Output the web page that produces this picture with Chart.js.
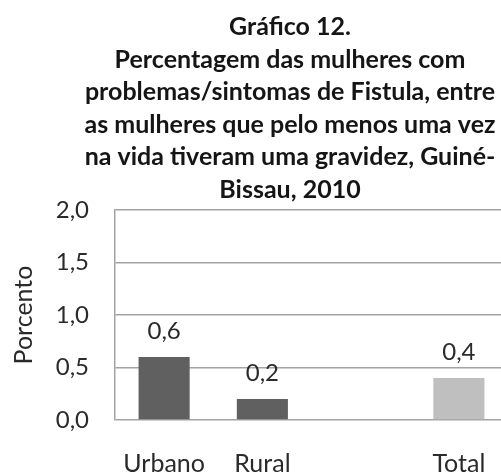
<!DOCTYPE html>
<html lang="pt">
<head>
<meta charset="UTF-8" />
<title>Gráfico 12</title>
<script src="https://cdn.jsdelivr.net/npm/chart.js"></script>
<style>
  html, body { margin: 0; padding: 0; background: #fff; overflow: hidden; }
  #wrap { width: 580px; height: 472px; }
</style>
</head>
<body>
<div id="wrap"><canvas id="grafico" width="580" height="472"></canvas></div>
<script>
  // dados
  const categorias = ['Urbano', 'Rural', '', 'Total'];
  const valores = [0.6, 0.2, null, 0.4];
  const coresBarras = ['#606060', '#606060', '#606060', '#bfbfbf'];
  const tituloLinhas = [
    'Gráfico 12.',
    'Percentagem das mulheres com',
    'problemas/sintomas de Fistula, entre',
    'as mulheres que pelo menos uma vez',
    'na vida tiveram uma gravidez, Guiné-',
    'Bissau, 2010'
  ];
  const tituloEixoY = 'Porcento';

  const fonte = 'Lato';
  const corTexto = '#2a2a2a';
  const virgula = v => v.toFixed(1).replace('.', ',');

  // rótulos de valor acima das barras
  const rotulosValor = {
    id: 'rotulosValor',
    afterDatasetsDraw(chart) {
      const ctx = chart.ctx;
      const meta = chart.getDatasetMeta(0);
      ctx.save();
      ctx.font = '24px ' + fonte;
      ctx.fillStyle = corTexto;
      ctx.textAlign = 'center';
      ctx.textBaseline = 'alphabetic';
      meta.data.forEach((bar, i) => {
        const v = valores[i];
        if (v === null) return;
        ctx.fillText(virgula(v), bar.x, bar.y - 18);
      });
      ctx.restore();
    }
  };

  const ctx = document.getElementById('grafico').getContext('2d');
  new Chart(ctx, {
    type: 'bar',
    data: {
      labels: categorias,
      datasets: [{
        data: valores,
        backgroundColor: coresBarras,
        borderWidth: 0,
        barPercentage: 0.52,
        categoryPercentage: 1.0
      }]
    },
    options: {
      responsive: false,
      animation: false,
      layout: { padding: 0 },
      plugins: {
        legend: { display: false },
        tooltip: { enabled: false },
        title: {
          display: true,
          text: tituloLinhas,
          color: '#151515',
          font: { family: fonte, size: 25, weight: 'bold', lineHeight: 1.3 },
          padding: { top: 11, bottom: 4 }
        }
      },
      scales: {
        x: {
          grid: { display: false },
          border: { display: false },
          ticks: {
            color: corTexto,
            font: { family: fonte, size: 25 },
            padding: 21,
            maxRotation: 0,
            autoSkip: false
          },
          afterFit: s => { s.height = 52; }
        },
        y: {
          min: 0,
          max: 2,
          grid: { color: '#a3a3a3', lineWidth: 1.5, drawTicks: false },
          border: { display: true, color: '#a3a3a3', width: 1.5 },
          ticks: {
            stepSize: 0.5,
            color: corTexto,
            padding: 26,
            font: { family: fonte, size: 24 },
            callback: v => virgula(v)
          },
          title: {
            display: true,
            text: tituloEixoY,
            color: corTexto,
            font: { family: fonte, size: 25 },
            padding: { top: 9, bottom: 0 }
          },
          afterFit: s => { s.width = 115; }
        },
        y2: {
          position: 'right',
          grid: { display: false },
          border: { display: false },
          ticks: { display: false },
          afterFit: s => { s.width = 72; }
        }
      }
    },
    plugins: [rotulosValor]
  });
</script>
</body>
</html>
